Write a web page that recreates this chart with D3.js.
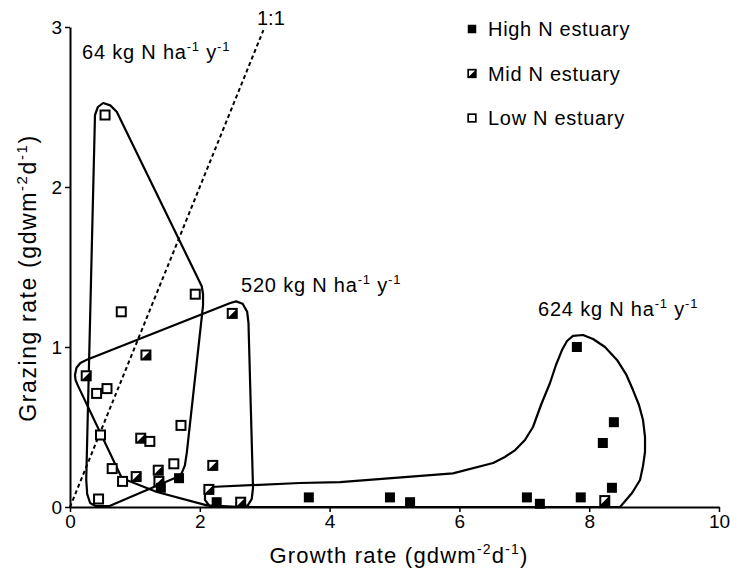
<!DOCTYPE html>
<html>
<head>
<meta charset="UTF-8">
<title>Grazing vs growth</title>
<script src="https://cdnjs.cloudflare.com/ajax/libs/d3/7.8.5/d3.min.js"></script>
<style>
    body { margin: 0; background: #fff; }
    text { font-family: Arial, "Liberation Sans", sans-serif; fill: #000; }
</style>
</head>
<body>
<div id="chart"></div>
<script>
    // data: [growth, grazing]
    const highN = [[1.40, 0.12], [1.68, 0.18], [2.26, 0.03], [3.68, 0.06], [4.93, 0.06], [5.24, 0.03],
        [7.04, 0.06], [7.24, 0.02], [7.81, 1.00], [7.87, 0.06], [8.21, 0.40], [8.38, 0.53], [8.35, 0.12]];
    const midN = [[0.25, 0.82], [1.17, 0.95], [1.09, 0.43], [1.02, 0.19], [1.36, 0.23], [1.37, 0.16],
        [2.20, 0.26], [2.14, 0.11], [2.63, 0.03], [2.50, 1.21], [8.24, 0.04]];
    const lowN = [[0.54, 2.45], [1.93, 1.33], [0.79, 1.22], [0.41, 0.71], [0.57, 0.74], [0.47, 0.45],
        [1.71, 0.51], [1.23, 0.41], [0.65, 0.24], [0.81, 0.16], [1.60, 0.27], [0.44, 0.05]];

    // envelopes drawn round each estuary
    const env64 = [[0.385, 2.45], [0.43, 2.50], [0.51, 2.525], [0.62, 2.51], [0.72, 2.47], [2.03, 1.38],
        [2.05, 1.33], [2.05, 1.26], [1.80, 0.34], [1.77, 0.26], [1.72, 0.21], [1.67, 0.19], [0.60, 0.005],
        [0.40, 0.005], [0.31, 0.025], [0.265, 0.08], [0.25, 0.17]];
    const env520 = [[0.077, 0.825], [0.10, 0.87], [0.16, 0.90], [0.26, 0.92], [2.47, 1.275], [2.56, 1.285],
        [2.66, 1.27], [2.73, 1.22], [2.75, 1.15], [2.82, 0.12], [2.80, 0.05], [2.74, 0.01], [2.65, 0.0],
        [2.11, 0.01], [1.34, 0.094], [0.80, 0.18], [0.12, 0.76], [0.085, 0.795]];
    const env624 = [[2.08, 0.106], [2.16, 0.125], [3.54, 0.15], [4.16, 0.156], [5.90, 0.21], [6.52, 0.275],
        [6.70, 0.3125], [6.86, 0.356], [7.01, 0.419], [7.134, 0.5], [7.257, 0.6375], [7.396, 0.775],
        [7.488, 0.8875], [7.581, 0.981], [7.658, 1.0375], [7.75, 1.069], [7.904, 1.075], [8.059, 1.05],
        [8.243, 1.0], [8.428, 0.919], [8.567, 0.831], [8.675, 0.731], [8.767, 0.6375], [8.829, 0.544],
        [8.86, 0.4375], [8.86, 0.344], [8.829, 0.256], [8.783, 0.169], [8.66, 0.0875], [8.475, 0.0],
        [2.16, 0.0], [2.08, 0.044]];

    const oneToOne = [[0, 0], [2.98, 2.98]];
    const xTicks = [0, 2, 4, 6, 8, 10];
    const yTicks = [0, 1, 2, 3];
    const legendLabels = ["High N estuary", "Mid N estuary", "Low N estuary"];

    const w = 730, h = 578;
    const x = d3.scaleLinear().domain([0, 10]).range([70, 719]);
    const y = d3.scaleLinear().domain([0, 3]).range([507, 27]);

    const svg = d3.select("#chart").append("svg")
        .attr("width", w)
        .attr("height", h);

    // envelopes
    const line = d3.line().x(d => x(d[0])).y(d => y(d[1])).curve(d3.curveLinearClosed);
    svg.selectAll(".env")
        .data([env64, env520, env624])
        .enter()
        .append("path")
        .attr("class", "env")
        .attr("d", line)
        .attr("fill", "none")
        .attr("stroke", "#000")
        .attr("stroke-width", 2.2)
        .attr("stroke-linejoin", "round");

    // 1:1 line
    svg.append("path")
        .attr("d", d3.line().x(d => x(d[0])).y(d => y(d[1]))(oneToOne))
        .attr("stroke", "#000")
        .attr("stroke-width", 2)
        .attr("stroke-dasharray", "4,3");

    // axes
    const xAxis = svg.append("g")
        .attr("transform", "translate(0," + y(0) + ")")
        .call(d3.axisBottom(x).tickValues(xTicks).tickFormat(d3.format("d")).tickSize(5).tickSizeOuter(0));
    const yAxis = svg.append("g")
        .attr("transform", "translate(" + x(0) + ",0)")
        .call(d3.axisLeft(y).tickValues(yTicks).tickFormat(d3.format("d")).tickSize(5).tickSizeOuter(0));
    [xAxis, yAxis].forEach(g => {
        g.select(".domain").attr("stroke-width", 2);
        g.selectAll(".tick line").attr("stroke-width", 1.5);
        g.selectAll(".tick text").attr("font-size", 19).attr("font-family", "Arial, 'Liberation Sans', sans-serif");
    });

    // markers
    const s = 9;
    function drawMarkers(data, kind) {
        const g = svg.append("g");
        const m = g.selectAll("g").data(data).enter().append("g")
            .attr("transform", d => "translate(" + x(d[0]) + "," + y(d[1]) + ")");
        addMarker(m, kind);
    }
    function addMarker(sel, kind) {
        if (kind === "high") {
            sel.append("rect").attr("x", -s / 2 - 0.5).attr("y", -s / 2 - 0.5)
                .attr("width", s + 1).attr("height", s + 1).attr("fill", "#000");
        } else {
            sel.append("rect").attr("x", -s / 2).attr("y", -s / 2).attr("width", s).attr("height", s)
                .attr("fill", "#fff").attr("stroke", "#000").attr("stroke-width", 2);
            if (kind === "mid") {
                sel.append("path")
                    .attr("d", "M" + (s / 2) + "," + (-s / 2) + "L" + (s / 2) + "," + (s / 2) + "L" + (-s / 2) + "," + (s / 2) + "Z")
                    .attr("fill", "#000");
            }
        }
    }
    drawMarkers(lowN, "low");
    drawMarkers(midN, "mid");
    drawMarkers(highN, "high");

    // legend
    const kinds = ["high", "mid", "low"];
    const leg = svg.selectAll(".leg").data(legendLabels).enter().append("g")
        .attr("class", "leg")
        .attr("transform", (d, i) => "translate(472," + (29 + i * 44.5) + ")");
    leg.each(function (d, i) {
        const g = d3.select(this);
        addMarker(g.append("g").attr("transform", "scale(0.85)"), kinds[i]);
        g.append("text").attr("x", 16).attr("y", 7).attr("font-size", 20)
            .attr("letter-spacing", 0.7).text(d);
    });

    // annotations with superscripts
    function label(px, py, main) {
        const t = svg.append("text").attr("x", px).attr("y", py).attr("font-size", 20).attr("letter-spacing", 0.8);
        t.append("tspan").text(main + " kg N ha");
        t.append("tspan").attr("font-size", 13).attr("dy", -8).text("-1");
        t.append("tspan").attr("dy", 8).text(" y");
        t.append("tspan").attr("font-size", 13).attr("dy", -8).text("-1");
    }
    label(82, 59, "64");
    label(241, 292, "520");
    label(538, 316, "624");

    svg.append("text").attr("x", 257).attr("y", 25).attr("font-size", 20).text("1:1");

    // axis titles
    const xt = svg.append("text").attr("x", 399).attr("y", 563).attr("text-anchor", "middle")
        .attr("font-size", 22).attr("letter-spacing", 1.2);
    xt.append("tspan").text("Growth rate (gdwm");
    xt.append("tspan").attr("font-size", 14).attr("dy", -9).text("-2");
    xt.append("tspan").attr("dy", 9).text("d");
    xt.append("tspan").attr("font-size", 14).attr("dy", -9).text("-1");
    xt.append("tspan").attr("dy", 9).text(")");

    const yt = svg.append("text").attr("transform", "translate(36,278) rotate(-90)")
        .attr("text-anchor", "middle").attr("font-size", 23).attr("letter-spacing", 1.6);
    yt.append("tspan").text("Grazing rate (gdwm");
    yt.append("tspan").attr("font-size", 15).attr("dy", -9).text("-2");
    yt.append("tspan").attr("dy", 9).text("d");
    yt.append("tspan").attr("font-size", 15).attr("dy", -9).text("-1");
    yt.append("tspan").attr("dy", 9).text(")");
</script>
</body>
</html>
